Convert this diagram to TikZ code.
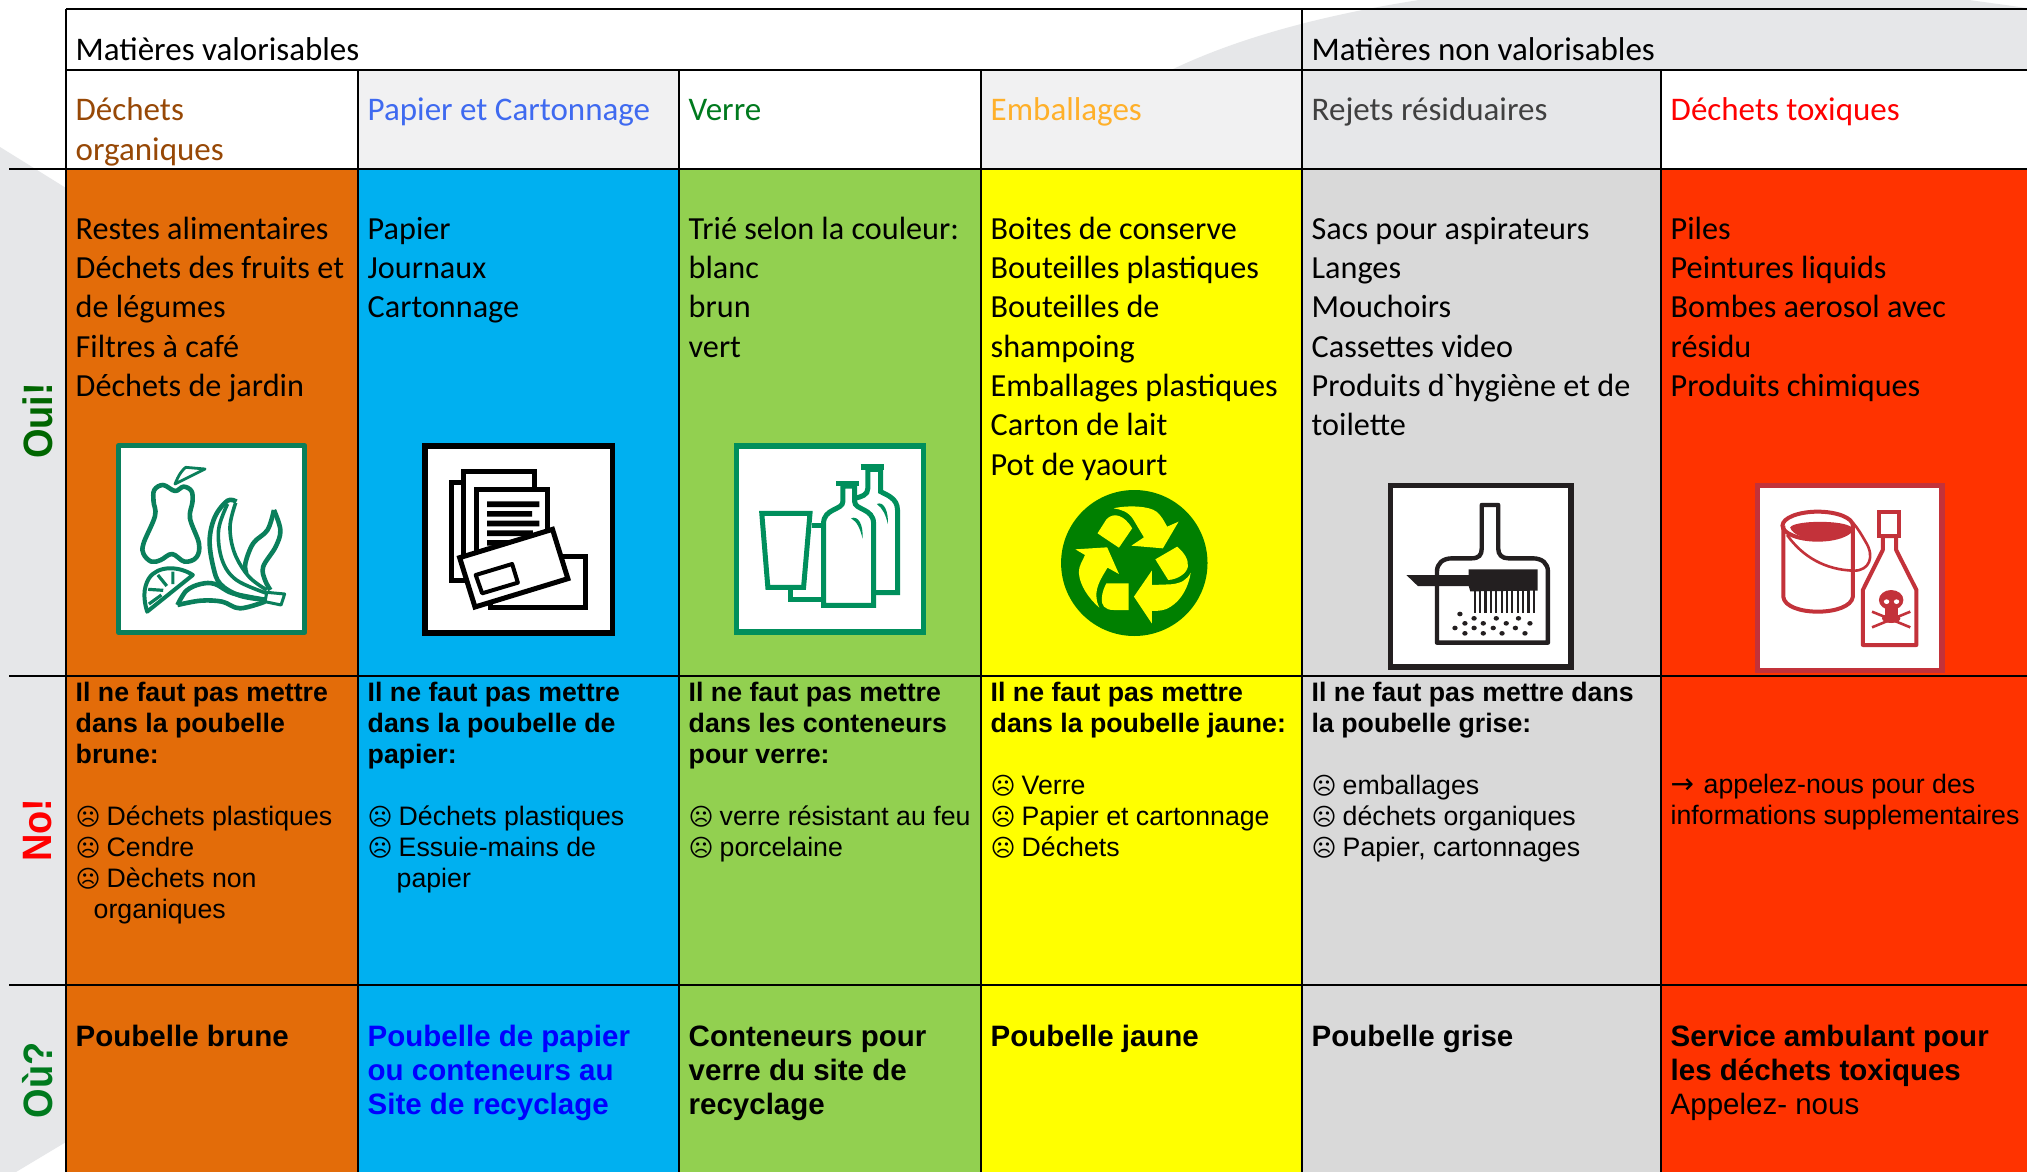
\documentclass[tikz,border=0pt]{standalone}
\usepackage{fontspec}
\newfontfamily\calf{Carlito}
\newfontfamily\arialf{Liberation Sans}
\newfontfamily\dejavu{DejaVu Sans}
\definecolor{blob}{HTML}{E6E7E9}
\definecolor{hdrgray}{HTML}{F1F1F2}
\definecolor{corange}{HTML}{E36C09}
\definecolor{cblue}{HTML}{00B0F0}
\definecolor{cgreen}{HTML}{92D050}
\definecolor{cyellow}{HTML}{FFFF00}
\definecolor{cgray}{HTML}{D9D9D9}
\definecolor{cred}{HTML}{FF3300}
\definecolor{tbrown}{HTML}{974806}
\definecolor{tblue}{HTML}{3F6AF0}
\definecolor{tgreen}{HTML}{007A1E}
\definecolor{torange}{HTML}{FFB02A}
\definecolor{tgray}{HTML}{404040}
\definecolor{icA}{HTML}{0A7F5B}
\definecolor{icC}{HTML}{008F5C}
\definecolor{icR}{HTML}{008000}
\definecolor{icE}{HTML}{231F20}
\definecolor{icT}{HTML}{C3323A}
\tikzset{
 basetxt/.style={anchor=north west,inner sep=0pt,align=left},
 calt/.style={basetxt,font=\calf\fontsize{32.2}{39.3}\selectfont},
 calh/.style={basetxt,font=\calf\fontsize{33}{40}\selectfont},
 arl/.style={basetxt,font=\arialf\fontsize{26.7}{30.9}\selectfont},
 arb/.style={basetxt,font=\arialf\bfseries\fontsize{29.5}{34.3}\selectfont},
 sidelab/.style={rotate=90,inner sep=0pt,font=\arialf\bfseries\fontsize{38}{38}\selectfont},
 grid/.style={line width=2.4pt,black},
 iconbox/.style={fill=white,line width=5.2pt,miter limit=10},
}
\newcommand\txt[5]{\node[#1] (#2) at (#3,{#4-30}) {\rule{0pt}{30pt}#5};}
\newcommand\sad{\makebox[31pt][l]{\dejavu\fontsize{24}{24}\selectfont ☹}}
\begin{document}
\begin{tikzpicture}[x=1pt,y=-1pt]
\useasboundingbox (0,0) rectangle (2027,1172);
% background
\fill[white] (0,0) rectangle (2027,1172);
\fill[blob] (0,147) -- (66,188) -- (66,1142) -- (16,1172) -- (0,1172) -- cycle;
\fill[blob] (1167,72) .. controls (1240,36) and (1330,14) .. (1419,0) -- (1969,0) -- (2027,8) -- (2027,72) -- cycle;
% header cells
\fill[hdrgray] (358,70) rectangle (679,169);
\fill[hdrgray] (981,70) rectangle (1302,169);
\fill[blob] (1302,70) rectangle (1661,169);
\fill[white] (1661,70) rectangle (2027,169);
% colour columns
\foreach \xa/\xb/\c in {66/358/corange,358/679/cblue,679/981/cgreen,981/1302/cyellow,1302/1661/cgray,1661/2027/cred}
  \fill[\c] (\xa,169) rectangle (\xb,1172);
% grid
\draw[grid] (66,9) -- (2027,9);
\draw[grid] (66,70) -- (2027,70);
\draw[grid] (9,169) -- (2027,169);
\draw[grid] (9,676) -- (2027,676);
\draw[grid] (9,985) -- (2027,985);
\draw[grid] (66,9) -- (66,1172);
\draw[grid] (1302,9) -- (1302,1172);
\foreach \x in {358,679,981,1661} \draw[grid] (\x,70) -- (\x,1172);
% headers
\txt{calh}{hA}{75.5}{60}{Matières valorisables}
\txt{calh}{hB}{1311.5}{60}{Matières non valorisables}
\txt{calh,text=tbrown}{hC}{75.5}{120}{Déchets\\organiques}
\txt{calh,text=tblue}{hD}{367.5}{120}{Papier et Cartonnage}
\txt{calh,text=tgreen}{hE}{688.5}{120}{Verre}
\txt{calh,text=torange}{hF}{990.5}{120}{Emballages}
\txt{calh,text=tgray}{hG}{1311.5}{120}{Rejets résiduaires}
\txt{calh,text=red}{hH}{1670.5}{120}{Déchets toxiques}
% side labels
\node[sidelab,text=green!40!black] (oui) at (37.5,421) {\scalebox{1}[1.08]{Oui!}};
\node[sidelab,text=red] (no) at (37.5,830) {\scalebox{1}[1.08]{No!}};
\node[sidelab,text=tgreen] (ou) at (37.5,1080) {\scalebox{1}[1.08]{Où?}};
% row 1
\txt{calt}{aA}{75.5}{239}{Restes alimentaires\\Déchets des fruits et\\de légumes\\Filtres à café\\Déchets de jardin}
\txt{calt}{aB}{367.5}{239}{Papier\\Journaux\\Cartonnage}
\txt{calt}{aC}{688.5}{239}{Trié selon la couleur:\\blanc\\brun\\vert}
\txt{calt}{aD}{990.5}{239}{Boites de conserve\\Bouteilles plastiques\\Bouteilles de\\shampoing\\Emballages plastiques\\Carton de lait\\Pot de yaourt}
\txt{calt}{aE}{1311.5}{239}{Sacs pour aspirateurs\\Langes\\Mouchoirs\\Cassettes video\\Produits d`hygiène et de\\toilette}
\txt{calt}{aF}{1670.5}{239}{Piles\\Peintures liquids\\Bombes aerosol avec\\résidu\\Produits chimiques}
% row 2
\txt{arl}{bA}{75.5}{701.5}{\textbf{Il ne faut pas mettre}\\\textbf{dans la poubelle}\\\textbf{brune:}\\[30.9pt]\sad Déchets plastiques\\\sad Cendre\\\sad Dèchets non\\\hspace*{18pt}organiques}
\txt{arl}{bB}{367.5}{701.5}{\textbf{Il ne faut pas mettre}\\\textbf{dans la poubelle de}\\\textbf{papier:}\\[30.9pt]\sad Déchets plastiques\\\sad Essuie-mains de\\\hspace*{29pt}papier}
\txt{arl}{bC}{688.5}{701.5}{\textbf{Il ne faut pas mettre}\\\textbf{dans les conteneurs}\\\textbf{pour verre:}\\[30.9pt]\sad verre résistant au feu\\\sad porcelaine}
\txt{arl}{bD}{990.5}{701.5}{\textbf{Il ne faut pas mettre}\\\textbf{dans la poubelle jaune:}\\[30.9pt]\sad Verre\\\sad Papier et cartonnage\\\sad Déchets}
\txt{arl}{bE}{1311.5}{701.5}{\textbf{Il ne faut pas mettre dans}\\\textbf{la poubelle grise:}\\[30.9pt]\sad emballages\\\sad déchets organiques\\\sad Papier, cartonnages}
\txt{arl}{bF}{1670.5}{793}{\makebox[33pt][l]{\dejavu\fontsize{28}{28}\selectfont →}appelez-nous pour des\\informations supplementaires}
% row 3
\txt{arb}{cA}{75.5}{1046}{Poubelle brune}
\txt{arb,text=blue}{cB}{367.5}{1046}{Poubelle de papier\\ou conteneurs au\\Site de recyclage}
\txt{arb}{cC}{688.5}{1046}{Conteneurs pour\\verre du site de\\recyclage}
\txt{arb}{cD}{990.5}{1046}{Poubelle jaune}
\txt{arb}{cE}{1311.5}{1046}{Poubelle grise}
\txt{arb}{cF}{1670.5}{1046}{Service ambulant pour\\les déchets toxiques\\\mdseries Appelez- nous}
% ---- icon 1: fruit
\begin{scope}[shift={(90,430)},x=0.35714pt,y=-0.33333pt,draw=icA,line width=4.6pt,line join=round]
\draw[iconbox,draw=icA] (80,47) rectangle (601,607);
\draw plot[smooth cycle,tension=0.6] coordinates {(238,183) (205,165) (180,180) (178,215) (182,258) (150,340) (150,372) (172,395) (198,390) (230,372) (265,395) (298,382) (305,340) (280,265) (287,215) (284,183) (262,170)};
\draw[line width=2.8pt] (238,162) .. controls (248,135) and (258,120) .. (268,112) -- (322,117) -- cycle;
% lemon
\draw[line width=4pt] (160,545) -- (288,435) .. controls (250,408) and (190,405) .. (165,445) .. controls (148,475) and (150,510) .. (160,545) -- cycle;
\draw[line width=3.2pt] (190,435) -- (215,468) (232,425) -- (232,462) (163,478) -- (205,481) (165,522) -- (200,495);
% banana and leaf
\draw plot[smooth,tension=0.6] coordinates {(410,215) (385,212) (350,260) (335,330) (345,410) (365,462) (420,497) (495,510)};
\draw[line width=3.6pt] plot[smooth,tension=0.6] coordinates {(385,222) (360,300) (370,390) (410,450) (495,490)};
\draw[line width=3.6pt] plot[smooth,tension=0.6] coordinates {(408,218) (392,290) (405,370) (445,440) (495,480)};
\draw plot[smooth,tension=0.6] coordinates {(515,240) (497,300) (457,340) (435,400) (438,430)};
\draw plot[smooth,tension=0.6] coordinates {(515,240) (533,300) (520,350) (485,410) (490,450) (505,480)};
\draw plot[smooth,tension=0.6] coordinates {(245,525) (270,482) (310,462) (350,462) (400,490) (495,510)};
\draw plot[smooth,tension=0.6] coordinates {(245,525) (310,512) (370,515) (420,535) (490,515)};
\draw[line width=3pt] (495,487) -- (545,492) -- (535,525) -- (490,515) -- cycle;
\end{scope}
% ---- icon 2: papers
\begin{scope}[shift={(90,430)},x=0.35714pt,y=-0.33333pt,draw=black,line width=5pt,miter limit=10]
\draw[iconbox,draw=black] (938,48) rectangle (1462,609);
\draw[fill=white] (1012,158) rectangle (1200,452);
\draw[fill=white] (1047,125) rectangle (1245,400);
\draw[fill=white] (1082,178) rectangle (1282,400);
\fill[black] (1112,214) rectangle (1258,231) (1112,243) rectangle (1238,260) (1112,272) rectangle (1258,289) (1112,301) rectangle (1240,318) (1112,330) rectangle (1200,347);
\draw[fill=white] (1122,378) rectangle (1388,532);
\draw[fill=white] (1035,383) -- (1295,298) -- (1338,446) -- (1078,531) -- cycle;
\draw[line width=4pt,line join=round] (1080,435) -- (1182,402) -- (1198,458) -- (1098,490) -- cycle;
\end{scope}
% ---- icon 3: bottles
\begin{scope}[shift={(710,430)},x=0.35714pt,y=-0.33333pt,draw=icC,line width=5pt,miter limit=10]
\draw[iconbox,draw=icC] (75,48) rectangle (597,606);
\draw[fill=white] (442,118) -- (442,175) .. controls (442,195) and (425,200) .. (405,205) -- (405,488) -- (525,488) -- (525,240) .. controls (525,205) and (495,195) .. (478,185) -- (478,118) -- cycle;
\draw[line width=5.5pt] (422,111) -- (487,111);
\draw (285,287) -- (318,287) (225,480) -- (225,508) -- (318,508);
\draw[fill=white] (372,168) -- (372,215) .. controls (372,240) and (318,235) .. (318,280) -- (318,526) -- (458,526) -- (458,280) .. controls (458,235) and (405,240) .. (405,215) -- (405,168) -- cycle;
\draw[line width=5.5pt] (354,160) -- (418,160);
\draw[fill=white] (145,250) -- (280,250) -- (262,472) -- (162,472) -- cycle;
\fill[icC] (395,265) .. controls (415,255) and (430,285) .. (427,325) .. controls (420,295) and (412,275) .. cycle;
\fill[icC] (467,222) .. controls (487,212) and (500,245) .. (498,282) .. controls (492,255) and (484,235) .. cycle;
\end{scope}
% ---- recycling
\begin{scope}[shift={(710,430)},x=0.35714pt,y=-0.33333pt]
\fill[icR] (1188,399) ellipse [x radius=205,y radius=219];
\fill[cyellow] (1130,235) .. controls (1170,225) and (1230,228) .. (1250,245) .. controls (1265,258) and (1272,275) .. (1280,290) -- (1312,275) -- (1268,355) -- (1180,347) -- (1215,322) -- (1185,268) .. controls (1172,245) and (1150,238) .. (1130,235) -- cycle;
\fill[cyellow] (1085,310) -- (1110,268) .. controls (1130,245) and (1160,255) .. (1182,295) -- (1145,353) -- cycle;
\fill[cyellow] (1247,388) -- (1308,350) .. controls (1330,370) and (1340,390) .. (1338,410) .. controls (1335,430) and (1310,448) .. (1283,450) -- cycle;
\fill[cyellow] (1346,428) .. controls (1340,470) and (1320,510) .. (1290,530) .. controls (1275,542) and (1255,543) .. (1237,543) -- (1237,580) -- (1187,500) -- (1237,422) -- (1237,465) -- (1290,463) .. controls (1320,460) and (1335,450) .. (1346,428) -- cycle;
\fill[cyellow] (1172,460) -- (1172,540) -- (1130,540) .. controls (1105,540) and (1095,525) .. (1097,505) .. controls (1098,485) and (1105,470) .. (1110,460) -- cycle;
\fill[cyellow] (1090,533) .. controls (1060,505) and (1035,465) .. (1033,430) .. controls (1032,405) and (1045,390) .. (1050,375) -- (1023,358) -- (1112,352) -- (1145,432) -- (1113,413) .. controls (1095,445) and (1080,470) .. (1082,500) .. controls (1083,515) and (1086,525) .. (1090,533) -- cycle;
\end{scope}
% ---- icon 5: brush
\begin{scope}[shift={(1370,470)},x=0.38265pt,y=-0.33333pt,draw=icE,line width=4.4pt,miter limit=10]
\draw[iconbox,draw=icE] (54,47) rectangle (525,591);
\draw[line join=round] (292,105) -- (292,235) .. controls (292,255) and (285,265) .. (265,265) -- (215,265) .. controls (190,265) and (175,280) .. (175,305) -- (175,518) -- (465,518) -- (465,305) .. controls (465,280) and (450,265) .. (425,265) -- (362,265) .. controls (345,265) and (335,255) .. (335,235) -- (335,105) -- cycle;
\fill[icE] (95,315) -- (258,315) -- (258,298) -- (438,298) -- (438,362) -- (262,364) -- (258,348) -- (125,348) -- cycle;
\foreach \bx in {274,288,302,316,330,344,358,372,386,400,414,428}
  \draw[line width=2.2pt] (\bx,360) -- (\bx,428);
\foreach \dx/\dy in {235/432,272/445,330/445,388/445,248/460,296/460,356/460,418/460,222/474,272/474,322/474,380/474,248/490,296/490,345/490,405/490}
  \fill[icE] (\dx,\dy) circle [x radius=7,y radius=7];
\end{scope}
% ---- icon 6: toxic
\begin{scope}[shift={(1370,470)},x=0.38265pt,y=-0.33333pt,draw=icT,line width=4pt,miter limit=10]
\draw[iconbox,draw=icT] (1012,47) rectangle (1495,601);
\fill[icT] (1098,172) .. controls (1110,150) and (1240,150) .. (1258,172) .. controls (1240,220) and (1110,220) .. (1098,172) -- cycle;
\draw (1170,167) ellipse [x radius=92,y radius=42];
\draw (1080,167) -- (1080,380) .. controls (1085,440) and (1255,440) .. (1262,380) -- (1262,167);
\draw[line width=2.6pt] (1090,195) .. controls (1130,260) and (1190,300) .. (1265,302) .. controls (1305,302) and (1320,260) .. (1295,215) .. controls (1285,195) and (1275,175) .. (1262,158);
\draw[fill=white,line join=round] (1340,198) -- (1340,240) -- (1288,360) -- (1288,525) -- (1428,525) -- (1428,360) -- (1375,240) -- (1375,198) -- cycle;
\draw[fill=white] (1330,125) rectangle (1382,198);
\fill[icT] (1362,390) ellipse [x radius=32,y radius=30];
\fill[icT] (1345,410) rectangle (1380,445);
\fill[white] (1350,395) circle [x radius=7,y radius=7] (1376,395) circle [x radius=7,y radius=7];
\draw[line width=2.6pt] (1312,425) -- (1412,472) (1412,425) -- (1312,472);
\fill[icT] (1362,445) ellipse [x radius=24,y radius=14];
\end{scope}
\end{tikzpicture}
\end{document}
